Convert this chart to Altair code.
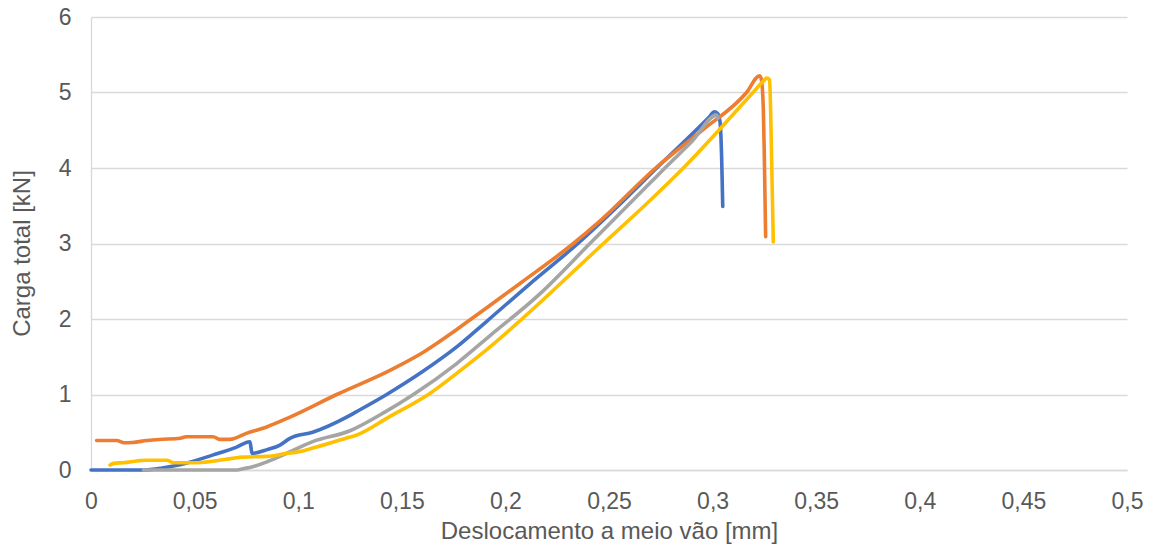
import altair as alt
import pandas as pd

# Series data (x = deslocamento [mm], y = carga [kN])
blue_x = [0.0, 0.025, 0.035, 0.043, 0.059, 0.070, 0.0767, 0.0772, 0.0777, 0.085, 0.0912, 0.096, 0.107,
          0.1234, 0.128, 0.1427, 0.1604, 0.1765, 0.191, 0.212, 0.235, 0.2545, 0.273,
          0.2985, 0.3008, 0.3025, 0.3036, 0.3044, 0.3049]
blue_y = [0.0, 0.0, 0.03, 0.07, 0.2, 0.30, 0.375, 0.30, 0.22, 0.27, 0.33, 0.42, 0.50,
          0.70, 0.77, 1.0, 1.31, 1.63, 1.97, 2.47, 3.0, 3.5, 4.0,
          4.68, 4.745, 4.72, 4.61, 4.1, 3.49]

orange_x = [0.0027, 0.0124, 0.016, 0.020, 0.027, 0.033, 0.043, 0.046, 0.059, 0.062, 0.067, 0.075,
            0.0848, 0.096, 0.1186, 0.1443, 0.1604, 0.175, 0.1835, 0.2075, 0.2328, 0.2457,
            0.2725, 0.295, 0.3164, 0.3226, 0.3235, 0.3245, 0.3250, 0.3256]
orange_y = [0.39, 0.39, 0.36, 0.365, 0.39, 0.405, 0.42, 0.44, 0.44, 0.405, 0.405, 0.485,
            0.57, 0.70, 1.0, 1.32, 1.56, 1.83, 2.0, 2.48, 3.0, 3.30,
            4.0, 4.5, 5.0, 5.22, 5.18, 4.77, 4.1, 3.09]

gray_x = [0.0253, 0.0703, 0.074, 0.078, 0.085, 0.0944, 0.107, 0.125, 0.142, 0.1556, 0.1765, 0.1926,
          0.2165, 0.2408, 0.2698, 0.277, 0.29, 0.302, 0.3025]
gray_y = [0.0, 0.0, 0.02, 0.044, 0.11, 0.22, 0.375, 0.52, 0.77, 1.0, 1.41, 1.78,
          2.33, 3.0, 3.8, 4.0, 4.35, 4.70, 4.66]

yellow_x = [0.0092, 0.011, 0.0156, 0.0236, 0.027, 0.0365, 0.0397, 0.051, 0.0735, 0.085, 0.0944, 0.1,
            0.107, 0.123, 0.128, 0.1443, 0.1628, 0.1765, 0.1926, 0.208, 0.2473, 0.2698, 0.2859,
            0.3195, 0.3245, 0.3261, 0.3275, 0.328, 0.3285, 0.3293]
yellow_y = [0.066, 0.088, 0.097, 0.124, 0.13, 0.13, 0.097, 0.097, 0.17, 0.18, 0.22, 0.24,
            0.29, 0.42, 0.46, 0.71, 1.0, 1.28, 1.63, 2.0, 3.0, 3.57, 4.0,
            5.0, 5.15, 5.19, 5.17, 4.77, 4.1, 3.02]

series = [("S1", blue_x, blue_y, "#4472C4"),
          ("S2", orange_x, orange_y, "#ED7D31"),
          ("S3", gray_x, gray_y, "#A5A5A5"),
          ("S4", yellow_x, yellow_y, "#FFC000")]

x_ticks = [0, 0.05, 0.1, 0.15, 0.2, 0.25, 0.3, 0.35, 0.4, 0.45, 0.5]
y_ticks = [0, 1, 2, 3, 4, 5, 6]

rows = []
for name, xs, ys, _ in series:
    for i, (a, b) in enumerate(zip(xs, ys)):
        rows.append({"serie": name, "idx": i, "x": a, "y": b})
df = pd.DataFrame(rows)

x_enc = alt.X("x:Q", scale=alt.Scale(domain=[0, 0.5], nice=False),
              axis=alt.Axis(values=x_ticks, title="Deslocamento a meio vão [mm]",
                            labelExpr="replace(toString(datum.value), '.', ',')",
                            grid=False, labelFlush=False, labelOverlap=False))
y_enc = alt.Y("y:Q", scale=alt.Scale(domain=[0, 6], nice=False),
              axis=alt.Axis(values=y_ticks, title="Carga total [kN]", grid=True,
                            labelFlush=False, titleY=236))

layers = []
for name, _, _, col in series:
    layers.append(
        alt.Chart(df).transform_filter(alt.datum.serie == name)
        .mark_line(color=col, strokeWidth=3.6, strokeCap="round", strokeJoin="round",
                   interpolate="monotone")
        .encode(x=x_enc, y=y_enc, order="idx:Q")
    )

chart = alt.layer(*layers).properties(
    width=1036, height=453,
    autosize=alt.AutoSizeParams(type="none"),
    padding={"left": 83, "top": 9, "right": 17, "bottom": 74},
).configure_view(stroke=None).configure_axis(
    labelFont="Liberation Sans", titleFont="Liberation Sans",
    labelColor="#595959", titleColor="#595959",
    labelFontSize=23, titleFontSize=24, titleFontWeight="normal",
    gridColor="#D9D9D9", gridWidth=1.3, domainColor="#D9D9D9", domainWidth=1.3,
    ticks=False,
).configure_axisX(labelPadding=20, titlePadding=6).configure_axisY(
    labelPadding=20, titlePadding=24)

chart.save("out.html", embed_options={"renderer": "svg", "actions": False})
